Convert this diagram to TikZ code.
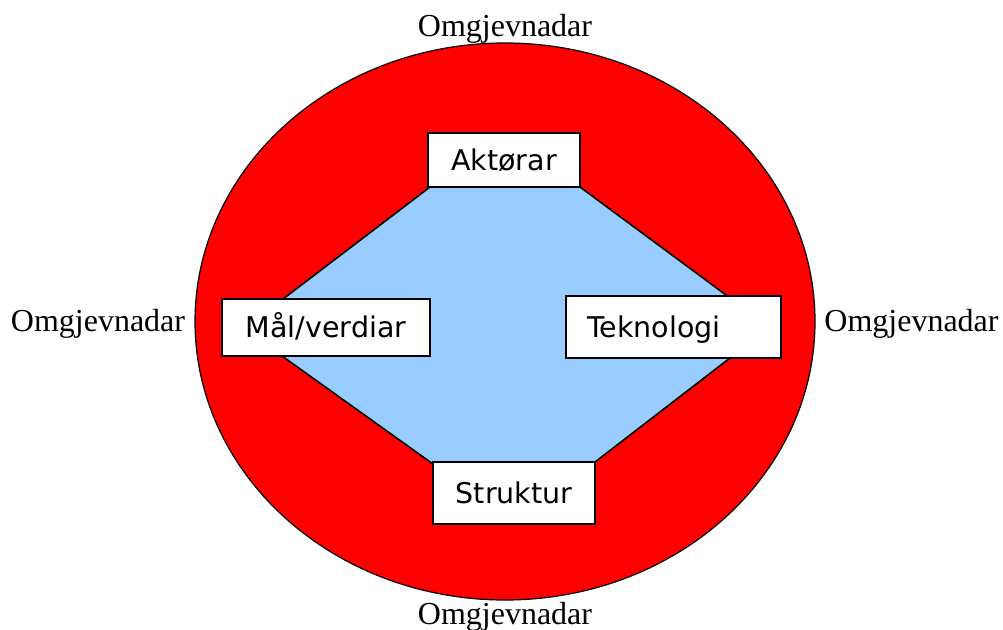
\documentclass[tikz,border=0pt]{standalone}
\usepackage{fontspec}
\setmainfont{Liberation Serif}
\newfontfamily\boxfont{DejaVu Sans}
\usetikzlibrary{positioning}
\definecolor{ringred}{HTML}{FF0000}
\definecolor{coreblue}{HTML}{99CCFF}

\begin{document}
\begin{tikzpicture}[
    x=1pt, y=-1pt,
    box/.style={draw, line width=1.6pt, fill=white, inner sep=0pt, text height=20.8pt, text depth=0pt, font=\boxfont\fontsize{28.5}{34}\selectfont},
    envlabel/.style={inner sep=0pt, anchor=base, font=\fontsize{32}{38}\selectfont}
]
    \useasboundingbox (0,0) rectangle (1003,629);

    % Outer ring (environment)
    \draw[fill=ringred, line width=1.2pt] (505,321.5) ellipse [x radius=310, y radius=278.5];

    % Inner core
    \draw[fill=coreblue, line width=1.6pt] (430,187) -- (580,187) -- (726,295) -- (730,358)
        -- (595,462) -- (433,464) -- (282,356) -- (283,299) -- cycle;

    % Boxes
    \node[box, minimum width=152pt, minimum height=54pt] (aktor) at (504,160) {Aktørar};
    \node[box, minimum width=208pt, minimum height=57pt] (maal) at (326,327.5) {Mål/verdiar};
    \node[box, minimum width=215pt, minimum height=62pt, text width=173pt, align=left] (tek) at (673.5,327) {Teknologi};
    \node[box, minimum width=162pt, minimum height=62pt] (struk) at (514,493) {Struktur};

    % Environment labels
    \node[envlabel] (envN) at (505,36) {Omgjevnadar};
    \node[envlabel] (envW) at (98,331) {Omgjevnadar};
    \node[envlabel] (envE) at (911.5,331) {Omgjevnadar};
    \node[envlabel] (envS) at (505,624) {Omgjevnadar};
\end{tikzpicture}
\end{document}
